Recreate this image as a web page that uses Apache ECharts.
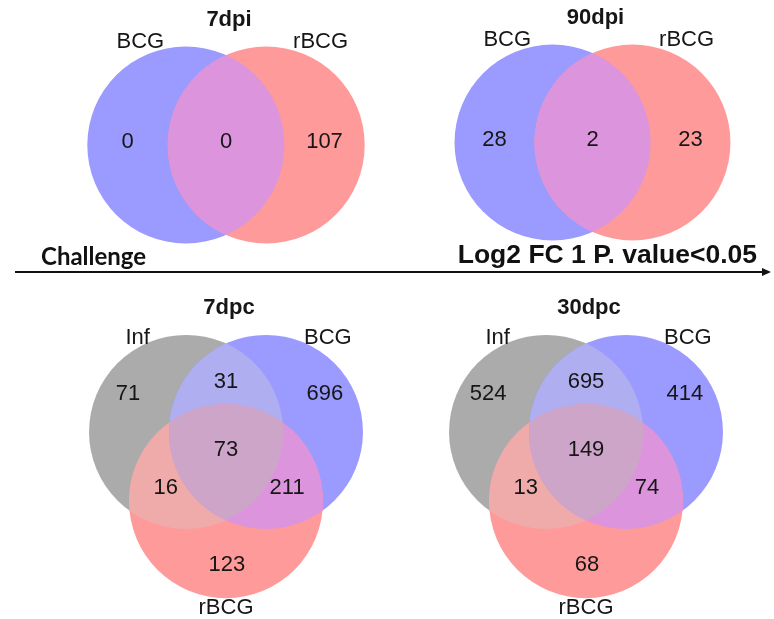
<!DOCTYPE html>
<html>
<head>
<meta charset="utf-8">
<title>Venn diagrams</title>
<script src="https://cdn.jsdelivr.net/npm/echarts@6/dist/echarts.min.js"></script>
<style>
  html, body { margin: 0; padding: 0; background: #ffffff; }
  #chart { width: 774px; height: 619px; }
</style>
</head>
<body>
<div id="chart"></div>
<script>
// ---- data -------------------------------------------------------------
const panelTitles = ['7dpi', '90dpi', '7dpc', '30dpc'];
const twoSetNames = ['BCG', 'rBCG'];
const threeSetNames = ['Inf', 'BCG', 'rBCG'];
// two-set regions: [BCG only, BCG & rBCG, rBCG only]
const counts7dpi = [0, 0, 107];
const counts90dpi = [28, 2, 23];
// three-set regions: [Inf only, Inf & BCG, BCG only, all three, Inf & rBCG, BCG & rBCG, rBCG only]
const counts7dpc = [71, 31, 696, 73, 16, 211, 123];
const counts30dpc = [524, 695, 414, 149, 13, 74, 68];
const headerLeft = 'Challenge';
const headerRight = 'Log2 FC 1 P. value<0.05';

// ---- styling ----------------------------------------------------------
const FONT = '"Liberation Sans", Arial, Helvetica, sans-serif';
const TEXT_COLOR = '#161616';
const setColors = { Inf: '#ababab', BCG: '#9a9aff', rBCG: '#ff9a9a' };
const overlapColors = {
  'BCG&rBCG': '#dc94dc',
  'Inf&BCG': '#aeaef0',
  'Inf&rBCG': '#efaaaa',
  'Inf&BCG&rBCG': '#cca5c8'
};

// ---- layouts in circle-radius units (y up) ----------------------------
const twoSetLayout = {
  centers: [[-0.408, 0], [0.408, 0]],
  overlaps: [[0, 1]],
  labelPos: [[-1.0, 0.03], [0, 0.03], [1.0, 0.03]],
  namePos: [[-0.87, 1.05], [0.96, 1.05]],
  xr: 1.6, yr: 1.2
};
const threeSetLayout = {
  centers: [[-0.412, 0.238], [0.412, 0.238], [0, -0.476]],
  overlaps: [[0, 1], [0, 2], [1, 2], [0, 1, 2]],
  labelPos: [[-1.01, 0.63], [0, 0.75], [1.02, 0.63], [0, 0.05],
             [-0.62, -0.34], [0.63, -0.34], [0.01, -1.13]],
  namePos: [[-0.91, 1.21], [1.05, 1.21], [0, -1.58]],
  xr: 1.6, yr: 1.6
};

const panels = [
  { title: panelTitles[0], sets: twoSetNames, counts: counts7dpi, center: [226, 145], unit: 98.5, titleY: 17 },
  { title: panelTitles[1], sets: twoSetNames, counts: counts90dpi, center: [592.5, 142.5], unit: 98, titleY: 15 },
  { title: panelTitles[2], sets: threeSetNames, counts: counts7dpc, center: [226, 455], unit: 97, titleY: 305 },
  { title: panelTitles[3], sets: threeSetNames, counts: counts30dpc, center: [586, 455], unit: 97, titleY: 305 }
];

// ---- geometry helpers (pixel space) -----------------------------------
function circleIntersections(c1, r1, c2, r2) {
  const dx = c2[0] - c1[0], dy = c2[1] - c1[1];
  const d = Math.hypot(dx, dy);
  const a = (r1 * r1 - r2 * r2 + d * d) / (2 * d);
  const h = Math.sqrt(Math.max(0, r1 * r1 - a * a));
  const mx = c1[0] + a * dx / d, my = c1[1] + a * dy / d;
  return [[mx - h * dy / d, my + h * dx / d], [mx + h * dy / d, my - h * dx / d]];
}
function insideAll(pt, circles) {
  return circles.every(c => Math.hypot(pt[0] - c.c[0], pt[1] - c.c[1]) <= c.r + 0.01);
}
// points along a circle from p to q, on the side that lies inside the other circles
function arcPoints(circ, p, q, others) {
  const a1 = Math.atan2(p[1] - circ.c[1], p[0] - circ.c[0]);
  const a2 = Math.atan2(q[1] - circ.c[1], q[0] - circ.c[0]);
  let d = a2 - a1;
  while (d <= -Math.PI) d += 2 * Math.PI;
  while (d > Math.PI) d -= 2 * Math.PI;
  const mid = a1 + d / 2;
  const mp = [circ.c[0] + circ.r * Math.cos(mid), circ.c[1] + circ.r * Math.sin(mid)];
  if (!insideAll(mp, others)) d = d > 0 ? d - 2 * Math.PI : d + 2 * Math.PI;
  const n = 90, pts = [];
  for (let i = 0; i <= n; i++) {
    const a = a1 + d * i / n;
    pts.push([circ.c[0] + circ.r * Math.cos(a), circ.c[1] + circ.r * Math.sin(a)]);
  }
  return pts;
}
function lensPoints(A, B) {
  const [p, q] = circleIntersections(A.c, A.r, B.c, B.r);
  return arcPoints(A, p, q, [B]).concat(arcPoints(B, q, p, [A]));
}
function triplePoints(A, B, C) {
  const pick = (X, Y, Z) => circleIntersections(X.c, X.r, Y.c, Y.r).find(pt => insideAll(pt, [Z]));
  const pAB = pick(A, B, C), pBC = pick(B, C, A), pCA = pick(C, A, B);
  return arcPoints(A, pCA, pAB, [B, C])
    .concat(arcPoints(B, pAB, pBC, [A, C]))
    .concat(arcPoints(C, pBC, pCA, [A, B]));
}

// ---- build option -----------------------------------------------------
const grids = [], xAxes = [], yAxes = [], series = [], titles = [];

panels.forEach((p, gi) => {
  const L = p.sets.length === 3 ? threeSetLayout : twoSetLayout;
  grids.push({
    left: p.center[0] - L.xr * p.unit, top: p.center[1] - L.yr * p.unit,
    width: 2 * L.xr * p.unit, height: 2 * L.yr * p.unit
  });
  xAxes.push({ type: 'value', gridIndex: gi, min: -L.xr, max: L.xr, show: false });
  yAxes.push({ type: 'value', gridIndex: gi, min: -L.yr, max: L.yr, show: false });

  const circlesPx = api => L.centers.map(c => ({ c: api.coord(c), r: api.size([1, 0])[0] }));

  // full circles, one per set
  series.push({
    type: 'custom', xAxisIndex: gi, yAxisIndex: gi, z: 1, silent: true, clip: false,
    data: p.sets.map((s, i) => ({ name: s, value: L.centers[i] })),
    renderItem(params, api) {
      const c = api.coord([api.value(0), api.value(1)]);
      const r = api.size([1, 0])[0];
      return { type: 'circle', shape: { cx: c[0], cy: c[1], r: r },
               style: { fill: setColors[p.sets[params.dataIndex]] } };
    }
  });

  // overlapping regions, drawn on top of the circles (pairs first, triple last)
  series.push({
    type: 'custom', xAxisIndex: gi, yAxisIndex: gi, z: 2, silent: true, clip: false,
    data: L.overlaps.map((o, i) => i),
    renderItem(params, api) {
      const combo = L.overlaps[params.dataIndex];
      const cs = circlesPx(api);
      const pts = combo.length === 2
        ? lensPoints(cs[combo[0]], cs[combo[1]])
        : triplePoints(cs[combo[0]], cs[combo[1]], cs[combo[2]]);
      const key = combo.map(k => p.sets[k]).join('&');
      return { type: 'polygon', z2: combo.length, shape: { points: pts },
               style: { fill: overlapColors[key] } };
    }
  });

  // region counts
  series.push({
    type: 'custom', xAxisIndex: gi, yAxisIndex: gi, z: 4, silent: true, clip: false,
    data: p.counts.map((v, i) => ({ value: [L.labelPos[i][0], L.labelPos[i][1], v] })),
    renderItem(params, api) {
      const c = api.coord([api.value(0), api.value(1)]);
      return { type: 'text', x: c[0], y: c[1],
               style: { text: String(api.value(2)), fill: TEXT_COLOR,
                        font: '22px ' + FONT, align: 'center', verticalAlign: 'middle' } };
    }
  });

  // set names
  series.push({
    type: 'custom', xAxisIndex: gi, yAxisIndex: gi, z: 4, silent: true, clip: false,
    data: p.sets.map((s, i) => ({ name: s, value: L.namePos[i] })),
    renderItem(params, api) {
      const c = api.coord([api.value(0), api.value(1)]);
      return { type: 'text', x: c[0], y: c[1],
               style: { text: p.sets[params.dataIndex], fill: TEXT_COLOR,
                        font: '22px ' + FONT, align: 'center', verticalAlign: 'middle' } };
    }
  });

  titles.push({
    text: p.title, left: p.center[0] - 2, top: p.titleY - 13, textAlign: 'center',
    textStyle: { fontFamily: FONT, fontWeight: 'bold', fontSize: 22, color: TEXT_COLOR }
  });
});

const option = {
  backgroundColor: '#ffffff',
  animation: false,
  title: titles,
  grid: grids,
  xAxis: xAxes,
  yAxis: yAxes,
  series: series,
  graphic: [
    { type: 'text', left: 41, top: 245, silent: true,
      style: { text: headerLeft, fill: '#111', font: 'bold 24px Lato, "Open Sans", sans-serif' } },
    { type: 'text', right: 17, top: 242, silent: true,
      style: { text: headerRight, fill: '#111', font: 'bold 26.5px ' + FONT } },
    { type: 'line', silent: true, shape: { x1: 15, y1: 272, x2: 764, y2: 272 },
      style: { stroke: '#111', lineWidth: 2 } },
    { type: 'polygon', silent: true, shape: { points: [[771, 272], [762, 268], [762, 276]] },
      style: { fill: '#111' } }
  ]
};

const chart = echarts.init(document.getElementById('chart'));
chart.setOption(option);
</script>
</body>
</html>
